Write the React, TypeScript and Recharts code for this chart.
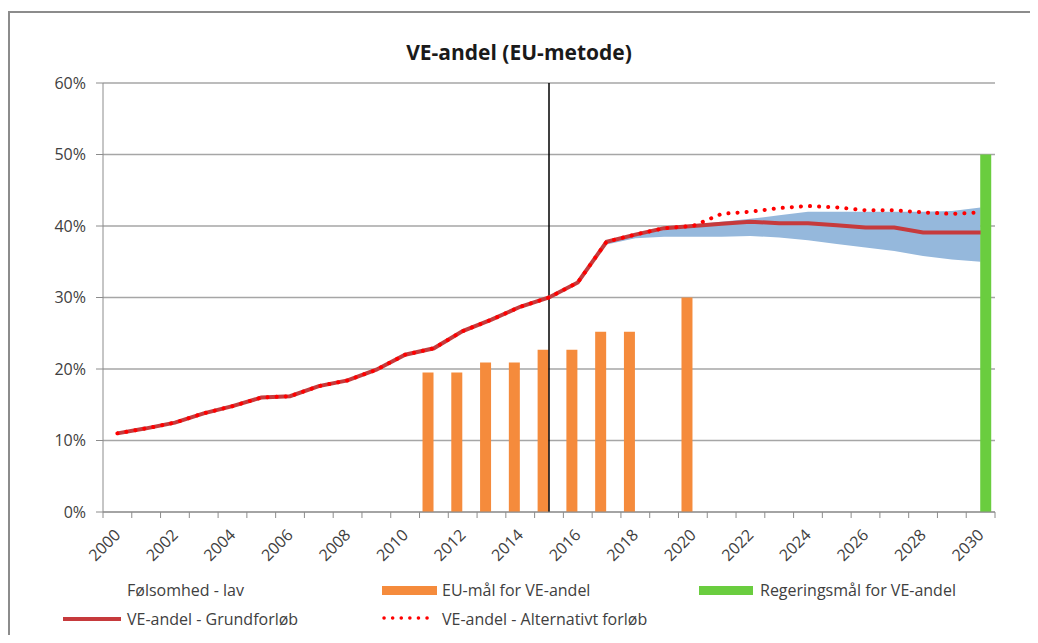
import {
  Area,
  Bar,
  CartesianGrid,
  ComposedChart,
  Line,
  ReferenceLine,
  XAxis,
  YAxis,
} from "recharts";

const years = [
  "2000", "2001", "2002", "2003", "2004", "2005", "2006", "2007", "2008", "2009",
  "2010", "2011", "2012", "2013", "2014", "2015", "2016", "2017", "2018", "2019",
  "2020", "2021", "2022", "2023", "2024", "2025", "2026", "2027", "2028", "2029",
  "2030",
];

const grundforlob = [
  11.0, 11.7, 12.5, 13.8, 14.8, 16.0, 16.2, 17.6, 18.4, 19.9,
  22.0, 22.9, 25.3, 26.9, 28.7, 30.0, 32.1, 37.8, 38.8, 39.7,
  40.0, 40.3, 40.6, 40.4, 40.4, 40.1, 39.8, 39.8, 39.1, 39.1,
  39.1,
];

const alternativ = [
  11.0, 11.7, 12.5, 13.8, 14.8, 16.0, 16.2, 17.6, 18.4, 19.9,
  22.0, 22.9, 25.3, 26.9, 28.7, 30.0, 32.1, 37.8, 38.8, 39.7,
  40.0, 41.7, 42.0, 42.5, 42.8, 42.6, 42.2, 42.2, 41.9, 41.7,
  41.9,
];

// følsomhed lav / høj (bånd fra 2017)
const folsomLav = [
  null, null, null, null, null, null, null, null, null, null,
  null, null, null, null, null, null, null, 37.4, 38.3, 38.5,
  38.5, 38.5, 38.6, 38.4, 38.0, 37.5, 37.0, 36.5, 35.8, 35.3,
  35.0,
];
const folsomHoj = [
  null, null, null, null, null, null, null, null, null, null,
  null, null, null, null, null, null, null, 37.9, 38.9, 39.8,
  40.2, 40.6, 41.0, 41.5, 42.0, 42.0, 42.0, 42.0, 42.0, 42.1,
  42.6,
];

const euMal = [
  null, null, null, null, null, null, null, null, null, null,
  null, 19.5, 19.5, 20.9, 20.9, 22.7, 22.7, 25.2, 25.2, null,
  30.0, null, null, null, null, null, null, null, null, null,
  null,
];
const regeringsMal = [
  null, null, null, null, null, null, null, null, null, null,
  null, null, null, null, null, null, null, null, null, null,
  null, null, null, null, null, null, null, null, null, null,
  50.0,
];

const yTicks = [0, 10, 20, 30, 40, 50, 60];

const chartData = years.map((year, i) => ({
  year,
  lav: folsomLav[i],
  hoj: folsomHoj[i],
  eu: euMal[i],
  regering: regeringsMal[i],
  grund: grundforlob[i],
  alt: alternativ[i],
}));

const FONT = "'Open Sans', sans-serif";
const TEXT = "#404040";
const AXIS = "#8c8c8c";
const BAND = 892 / years.length;

function YearTick(props: any) {
  const { x, y, payload, index } = props;
  const left = x - BAND / 2;
  const showLabel = Number(payload.value) % 2 === 0;
  return (
    <g>
      <line x1={left} y1={y} x2={left} y2={y + 6} stroke={AXIS} />
      {index === years.length - 1 && (
        <line x1={x + BAND / 2} y1={y} x2={x + BAND / 2} y2={y + 6} stroke={AXIS} />
      )}
      {showLabel && (
        <text
          x={x + 4}
          y={y + 24}
          textAnchor="end"
          fontSize={16}
          fontFamily={FONT}
          fill={TEXT}
          transform={`rotate(-45, ${x + 4}, ${y + 24})`}
        >
          {payload.value}
        </text>
      )}
    </g>
  );
}

function Swatch({ left, top, width, height, color }: any) {
  return (
    <div
      style={{ position: "absolute", left, top, width, height, background: color }}
    />
  );
}

function LegendText({ left, top, children }: any) {
  return (
    <div
      style={{
        position: "absolute",
        left,
        top,
        fontFamily: FONT,
        fontSize: 16,
        color: TEXT,
        lineHeight: "20px",
        whiteSpace: "nowrap",
      }}
    >
      {children}
    </div>
  );
}

export default function App() {
  return (
    <div style={{ position: "relative", width: 1030, height: 627, overflow: "hidden" }}>
      <div
        style={{
          position: "absolute",
          left: 0,
          top: 3,
          width: 1040,
          height: 700,
          borderLeft: "2px solid #8c8c8c",
          borderTop: "2px solid #8c8c8c",
        }}
      />
      <div
        style={{
          position: "absolute",
          left: 0,
          top: 30,
          width: 1022,
          textAlign: "center",
          fontFamily: FONT,
          fontWeight: 700,
          fontSize: 21,
          color: "#1a1a1a",
        }}
      >
        VE-andel (EU-metode)
      </div>
      <div style={{ position: "absolute", left: 0, top: 0 }}>
        <ComposedChart
          width={1030}
          height={627}
          data={chartData}
          margin={{ top: 75, right: 43, left: 0, bottom: 63 }}
          barSize={11}
          barGap={0}
        >
          <CartesianGrid vertical={false} stroke="#a6a6a6" strokeWidth={1.5} />
          <XAxis
            dataKey="year"
            interval={0}
            height={60}
            stroke={AXIS}
            tickLine={false}
            tickSize={0}
            tickMargin={0}
            tick={<YearTick />}
          />
          <YAxis
            width={95}
            domain={[0, 60]}
            ticks={yTicks}
            stroke={AXIS}
            tickSize={7}
            tickMargin={10}
            tickFormatter={(v) => `${v}%`}
            tick={{ fontSize: 16, fontFamily: FONT, fill: TEXT }}
          />
          <Bar dataKey="eu" fill="#f58b3c" isAnimationActive={false} />
          <Bar dataKey="regering" fill="#6acd3f" isAnimationActive={false} />
          <ReferenceLine x="2015" stroke="#000" strokeWidth={1.5} />
          <Area
            dataKey={(d: any) => (d.lav == null ? null : [d.lav, d.hoj])}
            type="linear"
            stroke="none"
            fill="#95b8dc"
            fillOpacity={1}
            isAnimationActive={false}
          />
          <Line
            dataKey="grund"
            type="linear"
            stroke="#c63a3c"
            strokeWidth={4}
            dot={false}
            isAnimationActive={false}
          />
          <Line
            dataKey="alt"
            type="linear"
            stroke="#ff0000"
            strokeWidth={4}
            strokeDasharray="0.1 9"
            strokeLinecap="round"
            dot={false}
            isAnimationActive={false}
          />
        </ComposedChart>
      </div>
      <LegendText left={119} top={572}>Følsomhed - lav</LegendText>
      <Swatch left={374} top={578} width={55} height={9} color="#f58b3c" />
      <LegendText left={434} top={572}>EU-mål for VE-andel</LegendText>
      <Swatch left={691} top={578} width={54} height={9} color="#6acd3f" />
      <LegendText left={752} top={572}>Regeringsmål for VE-andel</LegendText>
      <Swatch left={55} top={609} width={58} height={4} color="#c63a3c" />
      <LegendText left={119} top={601}>VE-andel - Grundforløb</LegendText>
      <svg style={{ position: "absolute", left: 374, top: 605 }} width={52} height={10}>
        <line
          x1={2}
          y1={5}
          x2={50}
          y2={5}
          stroke="#ff0000"
          strokeWidth={3.5}
          strokeDasharray="0.1 8.5"
          strokeLinecap="round"
        />
      </svg>
      <LegendText left={434} top={601}>VE-andel - Alternativt forløb</LegendText>
    </div>
  );
}
